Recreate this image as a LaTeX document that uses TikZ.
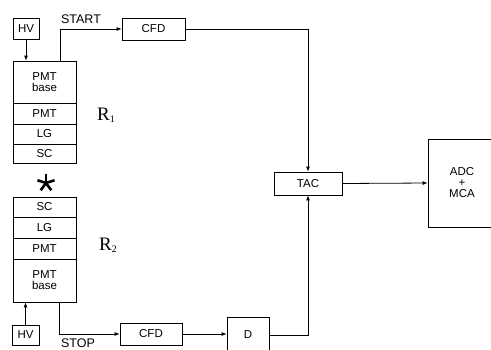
\documentclass[tikz,border=0pt]{standalone}
\usepackage{fontspec}
\setmainfont{Liberation Sans}
\newfontfamily\serfont{Liberation Serif}
\usetikzlibrary{arrows.meta}
\begin{document}
\begin{tikzpicture}[x=1pt,y=-1pt,
  box/.style={draw,line width=0.8pt,inner sep=0pt,font=\fontsize{11.5}{12}\selectfont,align=center},
  conn/.style={line width=0.8pt},
  arr/.style={line width=0.8pt,-{Latex[length=5pt,width=4pt]}},
  lbl/.style={font=\fontsize{12.5}{13}\selectfont,inner sep=0pt},
  rlbl/.style={font=\serfont\fontsize{19}{20}\selectfont,inner sep=0pt}]
\useasboundingbox (0,0) rectangle (491,349);
% top HV and CFD
\node[box,minimum width=26,minimum height=21] (hv1) at (26,28.5) {HV};
\node[box,minimum width=63,minimum height=22] (cfd1) at (153.5,29) {CFD};
% stack R1
\node[box,minimum width=63,minimum height=42] (pb1) at (44.5,82) {PMT\\[-1pt]base};
\node[box,minimum width=63,minimum height=21] (pmt1) at (44.5,113.5) {PMT};
\node[box,minimum width=63,minimum height=20] (lg1) at (44.5,134) {LG};
\node[box,minimum width=63,minimum height=19] (sc1) at (44.5,153.5) {SC};
% asterisk
\coordinate (ast) at (46,183);
\foreach \a in {90,162,18,234,306}
  \draw[line width=2.6pt] (ast) -- ++(\a:-9);
% stack R2
\node[box,minimum width=63,minimum height=20] (sc2) at (44.5,207) {SC};
\node[box,minimum width=63,minimum height=21] (lg2) at (44.5,227.5) {LG};
\node[box,minimum width=63,minimum height=21] (pmt2) at (44.5,248.5) {PMT};
\node[box,minimum width=63,minimum height=43] (pb2) at (44.5,280.5) {PMT\\[-1pt]base};
% bottom HV, CFD, D
\node[box,minimum width=27,minimum height=20] (hv2) at (25.5,335) {HV};
\node[box,minimum width=62,minimum height=22] (cfd2) at (151,334) {CFD};
\node[box,minimum width=42,minimum height=36] (d) at (248,335) {D};
% TAC and ADC
\node[box,minimum width=68,minimum height=23] (tac) at (308,183.5) {TAC};
\node[box,minimum width=68,minimum height=88] (adc) at (462,183) {ADC\\[-1pt]+\\[-1pt]MCA};
% labels
\node[lbl] (start) at (81,19.5) {START};
\node[lbl] (stop) at (78,343) {STOP};
\node[rlbl] (r1) at (106,115) {R\raisebox{-0.25ex}{\fontsize{10}{10}\selectfont 1}};
\node[rlbl] (r2) at (108,245) {R\raisebox{-0.25ex}{\fontsize{10}{10}\selectfont 2}};
% connectors
\draw[arr] (hv1.south) -- (hv1.south |- pb1.north);
\draw[arr] (hv2.north) -- (hv2.north |- pb2.south);
\coordinate (s1) at (60,61);
\draw[arr] (s1) |- (cfd1.west);
\coordinate (s2) at (59,302);
\draw[arr] (s2) |- (cfd2.west);
\draw[arr] (cfd1.east) -| (tac.north);
\draw[arr] (cfd2.east) -- (d.west |- cfd2.east);
\draw[arr] (d.east) -| (tac.south);
\draw[arr] (tac.east) -- (adc.west);
\end{tikzpicture}
\end{document}
